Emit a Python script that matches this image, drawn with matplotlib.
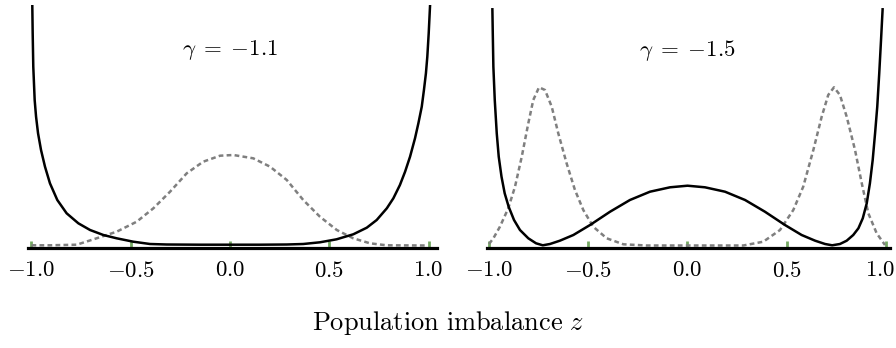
import numpy as np
import matplotlib
matplotlib.use("Agg")
import matplotlib.pyplot as plt
from matplotlib.transforms import ScaledTranslation

plt.rcParams["mathtext.fontset"] = "cm"
plt.rcParams["font.family"] = ["serif"]
plt.rcParams["font.serif"] = ["cmr10", "DejaVu Serif"]

# values (energy in arbitrary units)
gammas = ["-1.1", "-1.5"]
tick_pos = [-1.0, -0.5, 0.0, 0.5, 1.0]
tick_labels = ["$-1.0$", "$-0.5$", "$0.0$", "$0.5$", "$1.0$"]

# gamma = -1.1 : potential (solid) and distribution (dashed)
z_pot_a = [-0.996, -0.994, -0.991, -0.984, -0.977, -0.967, -0.952, -0.932, -0.907,
           -0.870, -0.823, -0.764, -0.705, -0.638, -0.571, -0.487, -0.403, -0.319,
           -0.15, 0.0, 0.15, 0.286, 0.369, 0.453, 0.537, 0.621, 0.689, 0.739,
           0.790, 0.823, 0.856, 0.882, 0.907, 0.932, 0.949, 0.966, 0.977, 0.987,
           0.994, 1.001, 1.008]
e_pot_a = [2.428, 2.142, 1.808, 1.475, 1.308, 1.142, 0.975, 0.808, 0.642,
           0.475, 0.342, 0.242, 0.175, 0.125, 0.092, 0.058, 0.035, 0.03,
           0.028, 0.028, 0.028, 0.03, 0.035, 0.052, 0.082, 0.132, 0.198, 0.275,
           0.392, 0.492, 0.625, 0.758, 0.908, 1.092, 1.242, 1.408, 1.575, 1.742,
           1.908, 2.142, 2.428]
z_dist_a = [-1.0, -0.907, -0.772, -0.672, -0.571, -0.470, -0.386, -0.302, -0.218,
            -0.135, -0.050, 0.017, 0.117, 0.202, 0.286, 0.369, 0.453, 0.538,
            0.621, 0.705, 0.789, 0.991]
p_dist_a = [0.022, 0.022, 0.028, 0.092, 0.158, 0.258, 0.392, 0.558, 0.742,
            0.858, 0.918, 0.925, 0.892, 0.808, 0.675, 0.475, 0.308, 0.175,
            0.092, 0.042, 0.022, 0.02]

# gamma = -1.5
z_pot_b = [-0.983, -0.981, -0.978, -0.971, -0.961, -0.951, -0.937, -0.921, -0.901,
           -0.874, -0.844, -0.802, -0.763, -0.729, -0.693, -0.643, -0.575, -0.491,
           -0.390, -0.290, -0.189, -0.088, 0.0, 0.088, 0.189, 0.290, 0.390, 0.491,
           0.575, 0.643, 0.693, 0.729, 0.768, 0.802, 0.835, 0.861, 0.883, 0.903,
           0.919, 0.933, 0.945, 0.956, 0.966, 0.975, 0.983]
e_pot_b = [2.382, 2.142, 1.808, 1.475, 1.142, 0.908, 0.708, 0.542, 0.408,
           0.275, 0.175, 0.092, 0.042, 0.022, 0.035, 0.068, 0.125, 0.225,
           0.358, 0.475, 0.558, 0.602, 0.618, 0.602, 0.558, 0.475, 0.358, 0.225,
           0.125, 0.068, 0.035, 0.022, 0.035, 0.068, 0.125, 0.192, 0.292, 0.442,
           0.642, 0.875, 1.142, 1.408, 1.742, 2.075, 2.382]
z_dist_b = [-1.0, -0.978, -0.945, -0.903, -0.869, -0.835, -0.802, -0.777, -0.748,
            -0.718, -0.684, -0.651, -0.609, -0.567, -0.525, -0.475, -0.407, -0.323,
            -0.206, 0.0, 0.281, 0.382, 0.466, 0.533, 0.583, 0.634, 0.676, 0.709,
            0.738, 0.768, 0.802, 0.844, 0.878, 0.911, 0.953, 0.995]
p_dist_b = [0.035, 0.092, 0.208, 0.392, 0.608, 0.908, 1.242, 1.475, 1.602,
            1.575, 1.408, 1.142, 0.842, 0.575, 0.375, 0.208, 0.092, 0.032,
            0.02, 0.02, 0.02, 0.058, 0.175, 0.375, 0.608, 0.975, 1.308, 1.525,
            1.602, 1.525, 1.308, 0.975, 0.642, 0.342, 0.142, 0.025]

panels = [
    (gammas[0], z_pot_a, e_pot_a, z_dist_a, p_dist_a, [28, 437], (-1.0176, 1.0428)),
    (gammas[1], z_pot_b, e_pot_b, z_dist_b, p_dist_b, [487, 890], (-1.0101, 1.0202)),
]

W, H = 896, 348
fig = plt.figure(figsize=(W / 100, H / 100), dpi=100)

for i, (g, zp, ep, zd, pd_, (x0, x1), xl) in enumerate(panels):
    ax = fig.add_axes([x0 / W, (H - 247.5) / H, (x1 - x0) / W, 242.5 / H])
    ax.plot(zd, pd_, color="#7f7f7f", lw=1.8, dashes=(1.9, 1.3))
    ax.plot(zp, ep, color="black", lw=1.8)
    ax.set_xlim(*xl)
    ax.set_ylim(0, 2.425)
    for s in ["left", "right", "top"]:
        ax.spines[s].set_visible(False)
    ax.spines["bottom"].set_linewidth(2.3)
    ax.set_yticks([])
    ax.set_xticks(tick_pos)
    ax.set_xticklabels(tick_labels)
    ax.tick_params(axis="x", direction="in", length=5, width=2.0,
                   color="#74a862", labelsize=16.5, pad=9.5)
    if i == 1:
        lab = ax.get_xticklabels()[-1]
        lab.set_transform(lab.get_transform() + ScaledTranslation(-6 / 100, 0, fig.dpi_scale_trans))
    ax.text(0.0, 0.814, r"$\gamma\;=\;{-%s}$" % g[1:], transform=ax.get_xaxis_transform(),
            ha="center", va="center", fontsize=16.5)
    ax.set_facecolor("none")

fig.text(0.5, (H - 323) / H, r"$\mathrm{Population\ imbalance}\ z$",
         ha="center", va="center", fontsize=19)

fig.savefig("out.png", dpi=100)
